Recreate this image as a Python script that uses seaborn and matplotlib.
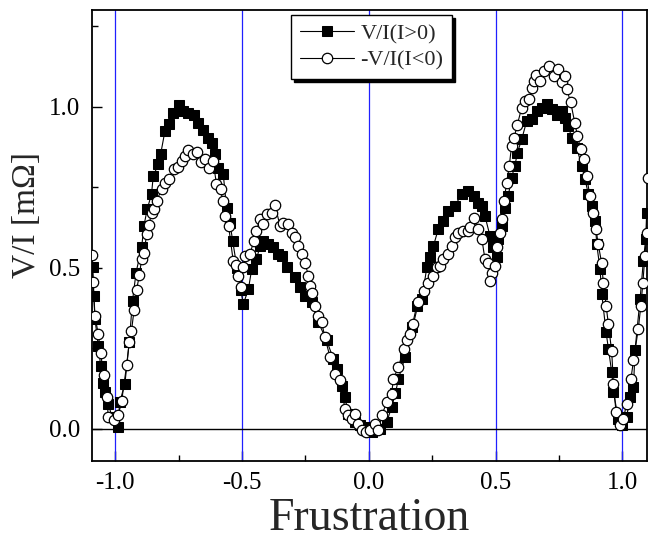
import numpy as np
import pandas as pd
import seaborn as sns
import matplotlib
import matplotlib.pyplot as plt
from matplotlib.ticker import MultipleLocator, FormatStrFormatter
matplotlib.use('Agg')

sns.set_theme(style="white")
plt.rcParams['font.family'] = ['Liberation Serif', 'DejaVu Serif']
plt.rcParams['axes.unicode_minus'] = False

# V/I(I>0), filled squares
pos_f = [-1.089, -1.085, -1.080, -1.067, -1.058, -1.050, -1.041, -1.028, -1.012, -0.991,
         -0.982, -0.962, -0.945, -0.932, -0.918, -0.896, -0.887, -0.874, -0.857, -0.850,
         -0.830, -0.821, -0.804, -0.788, -0.771, -0.747, -0.732, -0.712, -0.690, -0.672,
         -0.653, -0.633, -0.620, -0.607, -0.594, -0.574, -0.561, -0.548, -0.537, -0.520,
         -0.505, -0.495, -0.475, -0.462, -0.443, -0.429, -0.416, -0.396, -0.377, -0.357,
         -0.344, -0.324, -0.291, -0.272, -0.252, -0.225, -0.199, -0.166, -0.140, -0.127,
         -0.107, -0.094, -0.081, -0.055, -0.035, -0.015, 0.011, 0.044, 0.071, 0.090,
         0.105, 0.117, 0.143, 0.170, 0.189, 0.209, 0.229, 0.242, 0.255, 0.274,
         0.294, 0.314, 0.340, 0.366, 0.393, 0.413, 0.432, 0.445, 0.458, 0.478,
         0.491, 0.504, 0.511, 0.524, 0.537, 0.550, 0.563, 0.576, 0.586, 0.603,
         0.623, 0.643, 0.662, 0.682, 0.702, 0.721, 0.741, 0.761, 0.774, 0.787,
         0.800, 0.820, 0.840, 0.853, 0.866, 0.879, 0.893, 0.899, 0.912, 0.919,
         0.936, 0.945, 0.958, 0.965, 0.984, 0.998, 1.017, 1.030, 1.044, 1.050,
         1.070, 1.083, 1.092, 1.096]
pos_v = [0.501, 0.413, 0.341, 0.258, 0.196, 0.143, 0.114, 0.078, 0.035, 0.005,
         0.083, 0.140, 0.268, 0.397, 0.485, 0.563, 0.630, 0.682, 0.729, 0.786,
         0.821, 0.853, 0.925, 0.946, 0.981, 1.007, 0.986, 0.981, 0.973, 0.950,
         0.929, 0.903, 0.888, 0.852, 0.810, 0.790, 0.687, 0.640, 0.584, 0.500,
         0.430, 0.387, 0.433, 0.495, 0.526, 0.568, 0.584, 0.573, 0.563, 0.542,
         0.537, 0.501, 0.470, 0.440, 0.413, 0.392, 0.330, 0.274, 0.217, 0.186,
         0.134, 0.098, 0.046, 0.021, 0.010, 0.005, -0.011, -0.001, 0.021, 0.067,
         0.110, 0.155, 0.222, 0.315, 0.382, 0.403, 0.501, 0.532, 0.568, 0.620,
         0.646, 0.677, 0.692, 0.729, 0.739, 0.723, 0.702, 0.692, 0.661, 0.599,
         0.563, 0.532, 0.589, 0.630, 0.687, 0.723, 0.780, 0.816, 0.857, 0.899,
         0.956, 0.961, 0.987, 0.997, 1.010, 0.992, 0.976, 0.987, 0.966, 0.940,
         0.904, 0.873, 0.816, 0.775, 0.728, 0.692, 0.646, 0.573, 0.496, 0.418,
         0.299, 0.248, 0.176, 0.114, 0.031, 0.010, 0.036, 0.098, 0.129, 0.243,
         0.403, 0.522, 0.589, 0.671]

# -V/I(I<0), open circles
neg_f = [-1.093, -1.087, -1.080, -1.067, -1.058, -1.045, -1.032, -1.028, -1.005, -0.988,
         -0.975, -0.955, -0.945, -0.936, -0.926, -0.916, -0.905, -0.896, -0.887, -0.876,
         -0.867, -0.857, -0.848, -0.837, -0.817, -0.804, -0.788, -0.768, -0.751, -0.738,
         -0.725, -0.712, -0.692, -0.676, -0.662, -0.646, -0.631, -0.614, -0.601, -0.584,
         -0.577, -0.566, -0.553, -0.535, -0.525, -0.516, -0.505, -0.495, -0.487, -0.469,
         -0.453, -0.443, -0.429, -0.416, -0.403, -0.383, -0.370, -0.350, -0.337, -0.318,
         -0.304, -0.291, -0.278, -0.265, -0.252, -0.238, -0.232, -0.225, -0.212, -0.199,
         -0.186, -0.173, -0.153, -0.133, -0.114, -0.094, -0.081, -0.068, -0.055, -0.041,
         -0.028, -0.011, 0.005, 0.025, 0.038, 0.051, 0.071, 0.090, 0.097, 0.117,
         0.137, 0.150, 0.163, 0.176, 0.196, 0.216, 0.235, 0.255, 0.268, 0.281,
         0.294, 0.314, 0.327, 0.340, 0.353, 0.373, 0.393, 0.399, 0.413, 0.432,
         0.446, 0.458, 0.472, 0.485, 0.478, 0.498, 0.504, 0.517, 0.524, 0.533,
         0.544, 0.554, 0.563, 0.573, 0.586, 0.603, 0.616, 0.633, 0.642, 0.652,
         0.659, 0.675, 0.691, 0.711, 0.731, 0.748, 0.761, 0.774, 0.780, 0.796,
         0.813, 0.823, 0.836, 0.849, 0.859, 0.872, 0.885, 0.896, 0.905, 0.918,
         0.925, 0.936, 0.945, 0.958, 0.965, 0.975, 0.991, 1.004, 1.017, 1.034,
         1.044, 1.063, 1.073, 1.081, 1.089, 1.096, 1.103]
neg_v = [0.539, 0.457, 0.349, 0.294, 0.234, 0.167, 0.098, 0.036, 0.026, 0.041,
         0.085, 0.198, 0.268, 0.304, 0.368, 0.431, 0.477, 0.527, 0.547, 0.604,
         0.632, 0.671, 0.684, 0.708, 0.744, 0.764, 0.777, 0.806, 0.814, 0.832,
         0.847, 0.866, 0.852, 0.859, 0.827, 0.839, 0.811, 0.832, 0.760, 0.744,
         0.708, 0.661, 0.630, 0.522, 0.507, 0.474, 0.440, 0.501, 0.535, 0.542,
         0.584, 0.615, 0.650, 0.635, 0.666, 0.669, 0.694, 0.630, 0.640, 0.635,
         0.609, 0.594, 0.568, 0.542, 0.516, 0.475, 0.444, 0.423, 0.382, 0.351,
         0.330, 0.284, 0.222, 0.170, 0.150, 0.062, 0.041, 0.031, 0.046, 0.015,
         -0.005, -0.011, -0.005, 0.015, -0.005, 0.041, 0.083, 0.108, 0.155, 0.191,
         0.248, 0.274, 0.294, 0.325, 0.392, 0.429, 0.454, 0.475, 0.501, 0.506,
         0.527, 0.542, 0.568, 0.594, 0.609, 0.614, 0.614, 0.625, 0.656, 0.620,
         0.589, 0.527, 0.516, 0.485, 0.459, 0.506, 0.563, 0.609, 0.651, 0.708,
         0.764, 0.816, 0.878, 0.904, 0.945, 0.997, 1.018, 1.023, 1.059, 1.080,
         1.100, 1.080, 1.111, 1.128, 1.097, 1.118, 1.077, 1.097, 1.056, 1.015,
         0.949, 0.909, 0.868, 0.839, 0.785, 0.723, 0.671, 0.620, 0.573, 0.516,
         0.454, 0.382, 0.325, 0.240, 0.139, 0.052, 0.010, 0.031, 0.077, 0.155,
         0.212, 0.310, 0.382, 0.454, 0.537, 0.609, 0.780]

period_lines = [-1.0, -0.5, 0.0, 0.5, 1.0]

df_pos = pd.DataFrame({'f': pos_f, 'v': pos_v})
df_neg = pd.DataFrame({'f': neg_f, 'v': neg_v})

fig = plt.figure(figsize=(6.62, 5.39), dpi=100)
ax = fig.add_axes([0.1385, 0.145, 0.978 - 0.1385, 0.981 - 0.145])
ax.set_facecolor('white')

for xv in period_lines:
    ax.axvline(xv, color='#2020ff', lw=0.9, zorder=1)
ax.axhline(0, color='black', lw=1.0, zorder=1)

sns.lineplot(x='f', y='v', data=df_pos, sort=False, estimator=None, ax=ax,
             color='black', lw=0.8, marker='s', markersize=6.5,
             markerfacecolor='black', markeredgecolor='black',
             label='V/I(I>0)', zorder=3)
sns.lineplot(x='f', y='v', data=df_neg, sort=False, estimator=None, ax=ax,
             color='black', lw=0.8, marker='o', markersize=7.5,
             markerfacecolor='white', markeredgecolor='black', markeredgewidth=0.9,
             label='-V/I(I<0)', zorder=4)

ax.set_xlim(-1.093, 1.099)
ax.set_ylim(-0.1, 1.3)
ax.xaxis.set_major_locator(MultipleLocator(0.5))
ax.xaxis.set_minor_locator(MultipleLocator(0.25))
ax.yaxis.set_major_locator(MultipleLocator(0.5))
ax.yaxis.set_minor_locator(MultipleLocator(0.25))
ax.xaxis.set_major_formatter(FormatStrFormatter('%.1f'))
ax.yaxis.set_major_formatter(FormatStrFormatter('%.1f'))
ax.tick_params(which='both', direction='in', colors='black', labelsize=18,
               bottom=True, left=True, top=False, right=False)
ax.tick_params(which='major', length=7, width=1.0, pad=8)
ax.tick_params(which='minor', length=4, width=1.0)
for s in ax.spines.values():
    s.set_color('black')
    s.set_linewidth(1.3)

ax.set_xlabel('Frustration', fontsize=33)
ax.xaxis.label.set_va('baseline')
ax.xaxis.set_label_coords(0.5, -0.153)
ax.set_ylabel('V/I [m\u03a9]', fontsize=24)
ax.yaxis.set_label_coords(-0.09, 0.545)

leg = ax.legend(loc='upper center', bbox_to_anchor=(0.504, 0.99), borderaxespad=0,
                fontsize=16, frameon=True, fancybox=False, edgecolor='black',
                framealpha=1, shadow={'color': 'black', 'alpha': 1.0},
                handlelength=2.4, borderpad=0.4, labelspacing=0.25,
                handletextpad=0.3)
leg.get_frame().set_linewidth(1.0)

plt.savefig('out.png', dpi=100)
